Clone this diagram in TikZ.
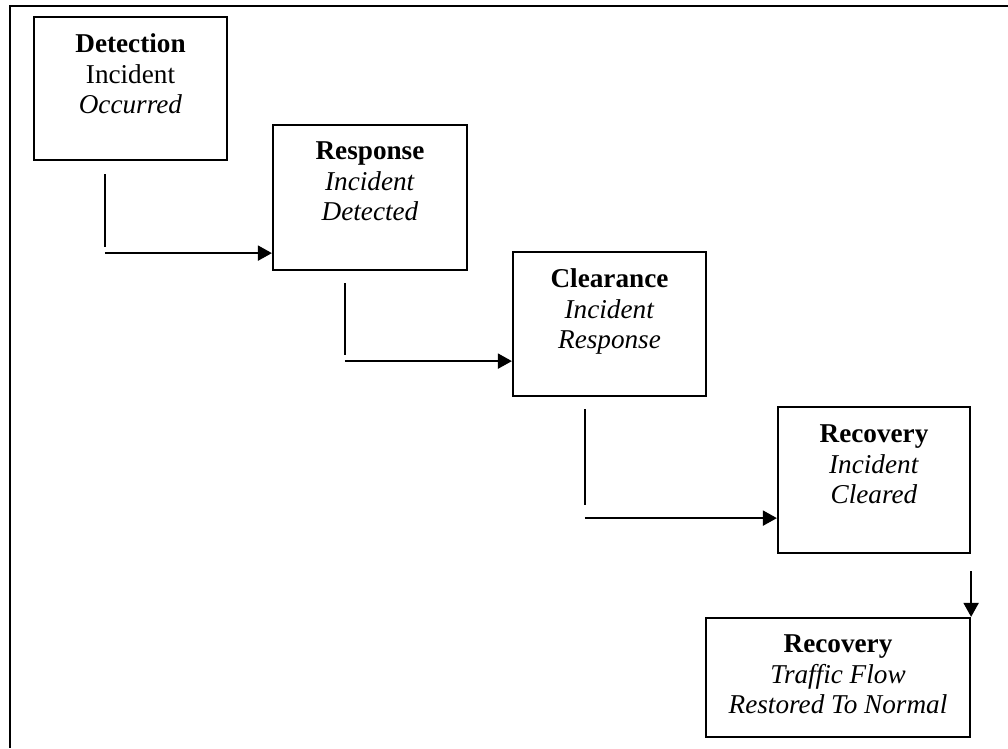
\documentclass[tikz,border=0pt]{standalone}
\usepackage{fontspec}
\setmainfont{Liberation Serif}
\usepackage{tikz}
\usetikzlibrary{arrows,arrows.meta,calc,positioning}

\begin{document}
\begin{tikzpicture}[x=1pt,y=-1pt]
\tikzstyle{stage}=[rectangle,draw,line width=2.2pt,inner sep=0pt]
\tikzstyle{caption}=[anchor=north,align=center,inner sep=0pt,font=\fontsize{27.2}{30.5}\selectfont]
\tikzstyle{conn}=[line width=2pt]
\tikzstyle{flow}=[conn,-{Triangle[length=14pt,width=15pt]}]
\useasboundingbox (0,0) rectangle (1008,748);
% frame
\draw[line width=2.4pt] (1008,6) -| (10,748);
% stages
\node[stage,minimum width=193pt,minimum height=143pt] (det) at (130.5,88.5) {};
\node[stage,minimum width=194pt,minimum height=145pt] (resp) at (370,197.5) {};
\node[stage,minimum width=193pt,minimum height=144pt] (clr) at (609.5,324) {};
\node[stage,minimum width=192pt,minimum height=146pt] (rec) at (874,480) {};
\node[stage,minimum width=264pt,minimum height=119pt] (fin) at (838,677.5) {};
\node[caption] (dett) at ($(det.north)+(0,18)$) {\textbf{Detection}\\Incident\\\textit{Occurred}};
\node[caption] (respt) at ($(resp.north)+(0,18)$) {\textbf{Response}\\\textit{Incident}\\\textit{Detected}};
\node[caption] (clrt) at ($(clr.north)+(0,18)$) {\textbf{Clearance}\\\textit{Incident}\\\textit{Response}};
\node[caption] (rect) at ($(rec.north)+(0,19)$) {\textbf{Recovery}\\\textit{Incident}\\\textit{Cleared}};
\node[caption] (fint) at ($(fin.north)+(0,18)$) {\textbf{Recovery}\\\textit{Traffic Flow}\\\textit{Restored To Normal}};
% connectors
\coordinate (d1) at ($(det.south west)+(72,13)$);
\coordinate (d2) at ($(det.south west)+(72,86)$);
\coordinate (d3) at ($(resp.south west)+(0,-18)$);
\draw[conn] (d1) -- (d2);
\draw[flow] (d1 |- d3) -- (d3);
\coordinate (r1) at ($(resp.south west)+(73,12)$);
\coordinate (r2) at ($(resp.south west)+(73,84)$);
\coordinate (r3) at ($(clr.south west)+(0,-36)$);
\draw[conn] (r1) -- (r2);
\draw[flow] (r1 |- r3) -- (r3);
\coordinate (c1) at ($(clr.south west)+(73,12)$);
\coordinate (c2) at ($(clr.south west)+(73,108)$);
\coordinate (c3) at ($(rec.south west)+(0,-36)$);
\draw[conn] (c1) -- (c2);
\draw[flow] (c1 |- c3) -- (c3);
\coordinate (e1) at ($(rec.south east)+(0,17)$);
\draw[flow] (e1) -- (fin.north east);
\end{tikzpicture}
\end{document}
